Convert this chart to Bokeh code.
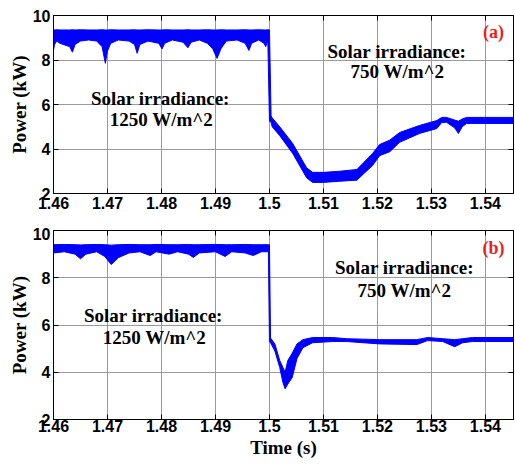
from bokeh.plotting import figure
from bokeh.layouts import column
from bokeh.models import LinearAxis, FixedTicker, Label, Range1d
from bokeh.embed import file_html
from bokeh.resources import INLINE

# ---------------- data ----------------
x_ticks = [1.46, 1.47, 1.48, 1.49, 1.5, 1.51, 1.52, 1.53, 1.54]
x_tick_labels = ["1.46", "1.47", "1.48", "1.49", "1.5", "1.51", "1.52", "1.53", "1.54"]
y_ticks = [2, 4, 6, 8, 10]

# panel (a): time, upper and lower envelope of the rippling power (kW)
a_time = [1.4600, 1.4602, 1.4606, 1.4612, 1.4630, 1.4635, 1.4640, 1.4650, 1.4665, 1.4680,
          1.4690, 1.4696, 1.4700, 1.4706, 1.4720, 1.4740, 1.4750, 1.4755, 1.4760, 1.4775,
          1.4795, 1.4801, 1.4806, 1.4820, 1.4840, 1.4849, 1.4855, 1.4870, 1.4885, 1.4895,
          1.4903, 1.4910, 1.4920, 1.4940, 1.4955, 1.4962, 1.4967, 1.4980, 1.4990, 1.4993,
          1.4997,
          1.5000, 1.5003, 1.5005, 1.5019, 1.5043, 1.5069, 1.5080, 1.5100, 1.5130, 1.5162,
          1.5175, 1.5191, 1.5204, 1.5223, 1.5241, 1.5278, 1.5310, 1.5319, 1.5328, 1.5343,
          1.5350, 1.5357, 1.5365, 1.5400, 1.5452]
a_upper = [9.36, 9.35, 9.36, 9.35, 9.35, 9.36, 9.35, 9.36, 9.35, 9.35,
           9.36, 9.35, 9.35, 9.36, 9.35, 9.35, 9.36, 9.35, 9.35, 9.36,
           9.35, 9.35, 9.36, 9.35, 9.35, 9.36, 9.35, 9.35, 9.36, 9.35,
           9.35, 9.36, 9.35, 9.35, 9.36, 9.35, 9.35, 9.36, 9.35, 9.35,
           9.36,
           9.35, 5.50, 5.40, 5.00, 4.25, 3.15, 2.95, 2.95, 3.00, 3.08,
           3.40, 3.80, 4.20, 4.40, 4.74, 5.06, 5.28, 5.42, 5.42, 5.30,
           5.25, 5.35, 5.42, 5.42, 5.42]
a_lower = [8.45, 8.70, 8.85, 8.75, 8.60, 8.35, 8.70, 8.85, 8.90, 8.85,
           8.60, 7.85, 8.40, 8.75, 8.90, 8.85, 8.70, 8.30, 8.70, 8.85,
           8.75, 8.50, 8.75, 8.90, 8.80, 8.55, 8.80, 8.90, 8.75, 8.50,
           8.07, 8.50, 8.85, 8.90, 8.75, 8.43, 8.75, 8.90, 8.75, 8.60,
           8.85,
           5.25, 5.20, 5.00, 4.60, 3.80, 2.70, 2.50, 2.50, 2.55, 2.60,
           2.90, 3.26, 3.70, 3.88, 4.30, 4.70, 4.92, 5.19, 5.20, 4.95,
           4.70, 5.00, 5.15, 5.15, 5.15]

# panel (b)
b_time = [1.4600, 1.4620, 1.4640, 1.4650, 1.4660, 1.4680, 1.4695, 1.4707, 1.4720, 1.4740,
          1.4760, 1.4779, 1.4790, 1.4814, 1.4830, 1.4850, 1.4859, 1.4870, 1.4900, 1.4918,
          1.4930, 1.4955, 1.4970, 1.4985, 1.4998,
          1.5000, 1.5002, 1.5010, 1.5019, 1.5025, 1.5029, 1.5034, 1.5042, 1.5051, 1.5062,
          1.5080, 1.5117, 1.5143, 1.5204, 1.5273, 1.5293, 1.5321, 1.5343, 1.5358, 1.5376,
          1.5452]
b_upper = [9.40, 9.41, 9.40, 9.39, 9.40, 9.41, 9.40, 9.38, 9.40, 9.41,
           9.40, 9.40, 9.41, 9.40, 9.40, 9.41, 9.40, 9.40, 9.41, 9.40,
           9.40, 9.41, 9.40, 9.40, 9.40,
           9.40, 5.45, 5.20, 4.50, 4.20, 4.00, 4.50, 4.80, 5.20, 5.38,
           5.47, 5.47, 5.42, 5.38, 5.38, 5.47, 5.42, 5.38, 5.42, 5.47,
           5.47]
b_lower = [9.05, 9.10, 9.00, 8.80, 9.00, 9.10, 8.90, 8.56, 8.85, 9.05,
           9.10, 8.94, 9.10, 9.00, 9.10, 9.00, 8.86, 9.05, 9.10, 8.90,
           9.10, 9.05, 8.94, 9.10, 9.10,
           5.30, 5.25, 4.90, 4.20, 3.56, 3.30, 3.50, 3.77, 4.58, 5.04,
           5.25, 5.30, 5.30, 5.20, 5.17, 5.34, 5.30, 5.08, 5.25, 5.30,
           5.30]

SERIF = "Liberation Serif"
SANS = "Liberation Sans"
BLUE = "#0000ff"


def make_panel(t, up, lo, height, b_top, b_bottom, standoff):
    p = figure(width=515, height=height,
               x_range=Range1d(1.46, 1.5452), y_range=Range1d(2, 10),
               output_backend="svg", toolbar_location=None,
               min_border_left=53, min_border_right=2,
               min_border_top=b_top, min_border_bottom=b_bottom,
               background_fill_color="white", border_fill_color="white",
               outline_line_color="black", outline_line_width=1)
    p.varea(x=t, y1=lo, y2=up, fill_color=BLUE)
    p.line(x=t, y=up, line_color=BLUE, line_width=1)
    p.line(x=t, y=lo, line_color=BLUE, line_width=1)

    bottom_ax = p.below[0]
    left_ax = p.left[0]
    bottom_ax.ticker = FixedTicker(ticks=x_ticks)
    bottom_ax.major_label_overrides = dict(zip(x_ticks, x_tick_labels))
    bottom_ax.major_label_standoff = standoff
    left_ax.ticker = FixedTicker(ticks=y_ticks)
    left_ax.major_label_standoff = 3
    left_ax.axis_label = "Power (kW)"
    left_ax.axis_label_standoff = 0
    for ax in (bottom_ax, left_ax):
        ax.axis_label_text_font = SERIF
        ax.axis_label_text_font_style = "bold"
        ax.axis_label_text_font_size = "19px"
        ax.axis_label_text_color = "black"
        ax.major_tick_in = 5
        ax.major_tick_out = 0
        ax.minor_tick_in = 0
        ax.minor_tick_out = 0
        ax.axis_line_color = "black"
        ax.major_tick_line_color = "black"
        ax.major_label_text_font = SANS
        ax.major_label_text_font_style = "bold"
        ax.major_label_text_font_size = "16px"
        ax.major_label_text_color = "black"

    # tick-only axes on the top and right sides (box)
    top = LinearAxis(ticker=FixedTicker(ticks=x_ticks), major_label_text_font_size="1px",
                     major_label_text_color=None,
                     major_tick_in=5, major_tick_out=0, minor_tick_in=0, minor_tick_out=0,
                     major_label_standoff=0, axis_line_color="black")
    right = LinearAxis(ticker=FixedTicker(ticks=y_ticks), major_label_text_font_size="1px",
                       major_label_text_color=None,
                       major_tick_in=5, major_tick_out=0, minor_tick_in=0, minor_tick_out=0,
                       major_label_standoff=0, axis_line_color="black")
    p.add_layout(top, "above")
    p.add_layout(right, "right")

    p.xgrid.ticker = FixedTicker(ticks=x_ticks)
    p.ygrid.ticker = FixedTicker(ticks=y_ticks)
    p.xgrid.grid_line_color = "#9a9a9a"
    p.ygrid.grid_line_color = "#9a9a9a"
    return p


def add_text(p, x, y, text, size="19px", color="black"):
    p.add_layout(Label(x=x, y=y, text=text, text_align="center", text_baseline="middle",
                       text_font=SERIF, text_font_style="bold", text_font_size=size,
                       text_color=color))


p1 = make_panel(a_time, a_upper, a_lower, 227, 15, 34, 3)
add_text(p1, 1.4798, 6.27, "Solar irradiance:")
add_text(p1, 1.4800, 5.33, "1250 W/m^2")
add_text(p1, 1.5236, 8.38, "Solar irradiance:")
add_text(p1, 1.5237, 7.48, "750 W/m^2")
add_text(p1, 1.5415, 9.28, "(a)", size="18px", color="#ee1c1c")

p2 = make_panel(b_time, b_upper, b_lower, 237, 3, 45, 0)
p2.below[0].axis_label = "Time (s)"
p2.below[0].axis_label_standoff = 2
add_text(p2, 1.4785, 6.40, "Solar irradiance:")
add_text(p2, 1.4787, 5.47, "1250 W/m^2")
add_text(p2, 1.5250, 8.43, "Solar irradiance:")
add_text(p2, 1.5250, 7.46, "750 W/m^2")
add_text(p2, 1.5415, 9.28, "(b)", size="18px", color="#ee1c1c")

layout = column(p1, p2, spacing=0)
open("out.html", "w").write(file_html(layout, INLINE))
